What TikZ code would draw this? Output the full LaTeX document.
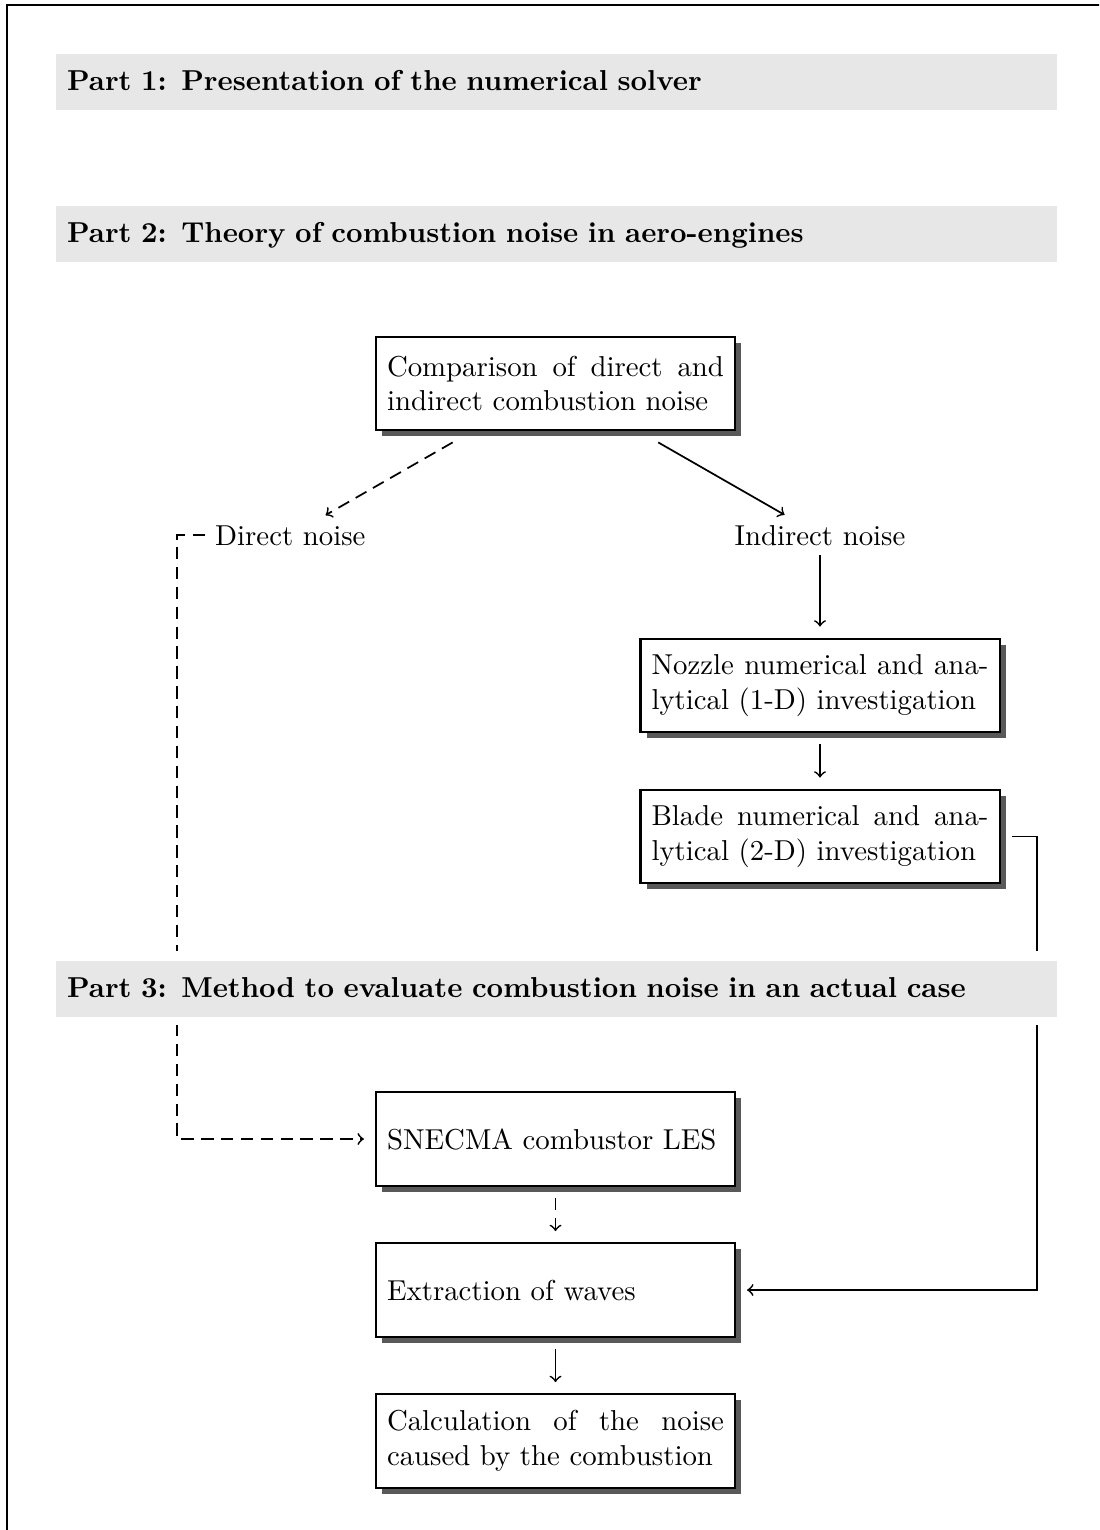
\documentclass[tikz,border=0pt]{standalone}
\usetikzlibrary{shadows}
\definecolor{barfill}{RGB}{230,231,230}
\begin{document}
\begin{tikzpicture}[x=0.3472pt,y=-0.3472pt,
  box/.style={draw, line width=0.7pt, fill=white, minimum width=124.65pt,
    minimum height=32.5pt, text width=117pt, inner xsep=3.8pt, inner ysep=0pt,
    align=justify, outer sep=4.2pt,
    drop shadow={shadow xshift=2.1pt, shadow yshift=-2.1pt, fill=black!65, opacity=1}},
  lbl/.style={inner sep=3.33pt},
  conn/.style={line width=0.6pt, ->},
  dconn/.style={conn, dash pattern=on 4.3pt off 2.6pt},
  barnode/.style={fill=barfill, anchor=north west, minimum width=347.6pt,
    minimum height=19.44pt, text width=339.5pt, inner xsep=4.05pt, inner ysep=0pt,
    align=left, text height=7.5pt, text depth=1.3pt, font=\bfseries},
  mask/.style={fill=white}
]
\useasboundingbox (0,0) rectangle (1099,1530);
\begin{scope}
\clip (0,0) rectangle (1099,1530);
\draw[line width=0.7pt] (7.3,5) rectangle (1300,1700);
\end{scope}

% boxes and labels
\node[box] (comp) at (555.5,383.5) {Comparison of direct and\linebreak indirect combustion noise};
\node[lbl, anchor=base] (direct) at (290.3,545) {Direct noise};
\node[lbl, anchor=base] (indirect) at (820,545) {Indirect noise};
\node[box] (nozzle) at (820,685.5) {Nozzle numerical and ana-\linebreak lytical (1-D) investigation};
\node[box] (blade) at (820,836.5) {Blade numerical and ana-\linebreak lytical (2-D) investigation};
\node[box] (snecma) at (555.5,1139) {SNECMA combustor LES};
\node[box] (extr) at (555.5,1290) {Extraction of waves};
\node[box] (calc) at (555.5,1441) {Calculation of the noise\linebreak caused by the combustion};

\coordinate (lc) at (177,0);
\coordinate (rc) at (1037,0);

% connectors
\draw[dconn] (comp) -- (direct);
\draw[conn] (comp) -- (indirect);
\draw[conn] (indirect) -- (nozzle);
\draw[conn] (nozzle) -- (blade);
\draw[dconn] (snecma) -- (extr);
\draw[conn] (extr) -- (calc);
\draw[dconn] (direct.west) -- (direct.west -| lc) |- (snecma.west);
\draw[conn] (blade.east) -- (blade.east -| rc) |- (extr.east);

% part bars
\fill[mask] (55,44) rectangle (1056,118);
\fill[mask] (55,196) rectangle (1056,270);
\fill[mask] (55,951) rectangle (1056,1025);
\node[barnode] (p1) at (55,53) {Part 1: Presentation of the numerical solver};
\node[barnode] (p2) at (55,205) {Part 2: Theory of combustion noise in aero-engines};
\node[barnode] (p3) at (55,960) {Part 3: Method to evaluate combustion noise in an actual case};
\end{tikzpicture}
\end{document}
